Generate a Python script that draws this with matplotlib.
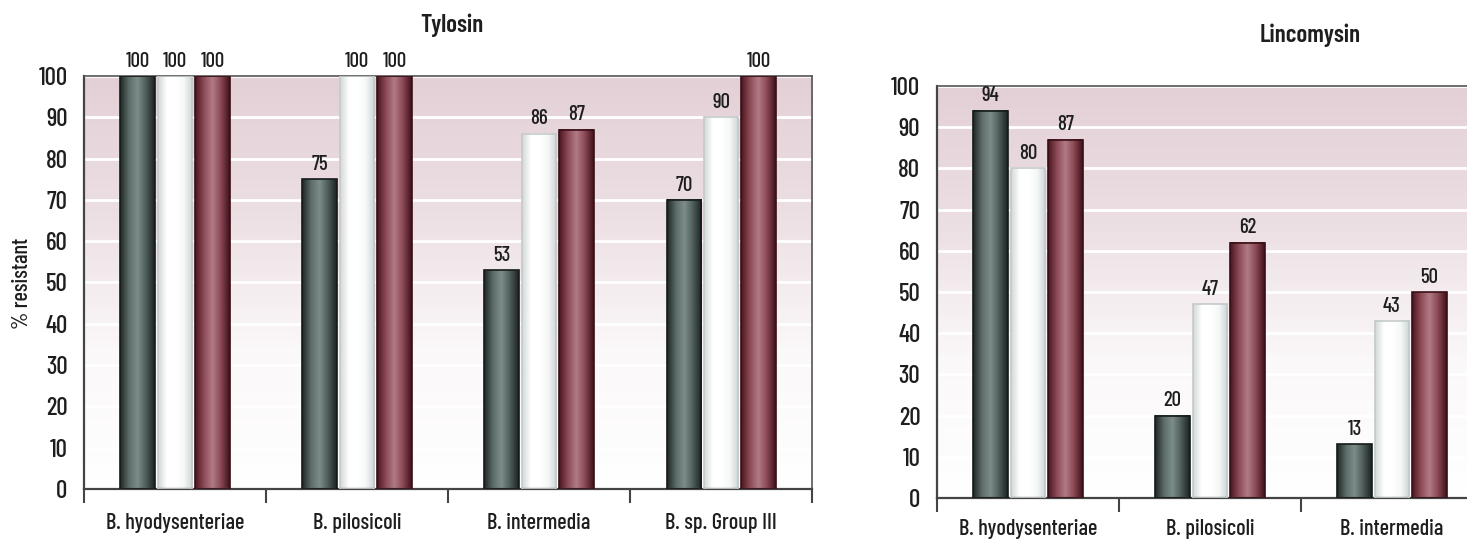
import numpy as np
import matplotlib
matplotlib.use('Agg')
import matplotlib.pyplot as plt
from matplotlib.colors import LinearSegmentedColormap

plt.rcParams['font.family'] = ['Barlow Condensed', 'DejaVu Sans']

# Data
tylosin_groups = ['B. hyodysenteriae', 'B. pilosicoli', 'B. intermedia', 'B. sp. Group III']
tylosin_dark = [100, 75, 53, 70]
tylosin_white = [100, 100, 86, 90]
tylosin_red = [100, 100, 87, 100]

lincomysin_groups = ['B. hyodysenteriae', 'B. pilosicoli', 'B. intermedia']
lincomysin_dark = [94, 20, 13]
lincomysin_white = [80, 47, 43]
lincomysin_red = [87, 62, 50]

y_ticks = list(range(0, 101, 10))

# cylinder-like shading for each series
cmaps = {
    'dark': LinearSegmentedColormap.from_list('d', ['#1f2726', '#5b6b68', '#7d8d8a', '#4e5d5a', '#1c2322']),
    'white': LinearSegmentedColormap.from_list('w', ['#d3d8d8', '#ffffff', '#ffffff', '#f6f8f8', '#ccd2d2']),
    'red': LinearSegmentedColormap.from_list('r', ['#4a1620', '#8c4a56', '#b07c86', '#8a4754', '#3f121b']),
}
edge = {'dark': '#151b1a', 'white': '#c4caca', 'red': '#3a0f17'}
bg_cmap = LinearSegmentedColormap.from_list('bg', ['#ffffff', '#fbf8f9', '#ecdfe3', '#e3d0d6'])
grad = np.linspace(0, 1, 64).reshape(1, -1)
txt = '#1e1e1e'


def draw_panel(ax, groups, series, n_slots, label_pad):
    ax.imshow(np.linspace(0, 1, 100).reshape(-1, 1), cmap=bg_cmap, origin='lower',
              extent=[0, 1, 0, 1], transform=ax.transAxes, aspect='auto', zorder=0)
    for y in y_ticks[1:]:
        ax.axhline(y, color='white', lw=2, zorder=1)
    width = 0.19
    for k, (name, vals) in enumerate(series):
        for i, v in enumerate(vals):
            x0 = i + 0.5 + (k - 1) * 0.205 - width / 2
            ax.imshow(grad, cmap=cmaps[name], extent=[x0, x0 + width, 0, v],
                      aspect='auto', zorder=2)
            ax.bar(x0, v, width=width, align='edge', facecolor='none',
                   edgecolor=edge[name], lw=1.2, zorder=3)
            ax.text(x0 + width / 2, v + 1.3, f'{v}', ha='center', va='bottom',
                    fontsize=15, fontweight='medium', color=txt, zorder=4)
    ax.set_xlim(0, n_slots)
    ax.set_ylim(0, 100)
    ax.set_yticks(y_ticks)
    ax.set_yticklabels([str(t) for t in y_ticks], fontsize=18, fontweight='medium', color=txt)
    ax.tick_params(axis='y', length=0, pad=12)
    ax.set_xticks(range(n_slots + 1))
    ax.set_xticklabels([])
    ax.set_xticks([i + 0.5 for i in range(len(groups))], minor=True)
    ax.set_xticklabels(groups, minor=True, fontsize=16, fontweight='medium', color=txt)
    ax.tick_params(axis='x', which='minor', length=0, pad=label_pad)
    ax.tick_params(axis='x', which='major', length=10, width=1.5, color='#444444')
    for s in ['left', 'bottom']:
        ax.spines[s].set_color('#444444')
        ax.spines[s].set_linewidth(1.6)
    for s in ['top', 'right']:
        ax.spines[s].set_color('#555555')
        ax.spines[s].set_linewidth(1.2)


fig = plt.figure(figsize=(14.67, 5.42), dpi=100)
ax1 = fig.add_axes([0.0573, 0.0978, 0.4963, 0.762])
ax2 = fig.add_axes([0.6387, 0.0812, 0.4963, 0.760])

draw_panel(ax1, tylosin_groups,
           [('dark', tylosin_dark), ('white', tylosin_white), ('red', tylosin_red)], 4, 17)
draw_panel(ax2, lincomysin_groups,
           [('dark', lincomysin_dark), ('white', lincomysin_white), ('red', lincomysin_red)], 4, 15)

fig.text(452 / 1467, 1 - 25 / 542, 'Tylosin', ha='center', va='center',
         fontsize=18, fontweight='semibold', color=txt)
fig.text(1310 / 1467, 1 - 35 / 542, 'Lincomysin', ha='center', va='center',
         fontsize=18, fontweight='semibold', color=txt)
fig.text(22 / 1467, 1 - 283 / 542, '% resistant', rotation=90, ha='center', va='center',
         fontsize=16, fontweight='medium', color=txt)

fig.savefig('out.png', dpi=100)
